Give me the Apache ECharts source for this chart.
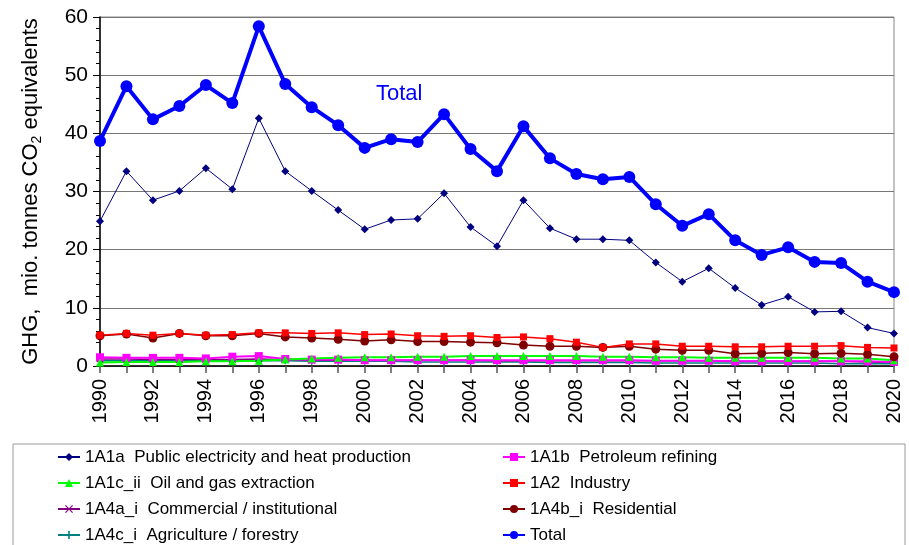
<!DOCTYPE html>
<html>
<head>
<meta charset="utf-8">
<script src="https://cdn.jsdelivr.net/npm/echarts@6/dist/echarts.min.js"></script>
<style>
  html, body { margin: 0; padding: 0; background: #fff; }
  #chart { width: 909px; height: 545px; }
</style>
</head>
<body>
<div id="chart"></div>
<script>
var years = [];
for (var y = 1990; y <= 2020; y++) years.push(String(y));

var publicElec = [24.9,33.5,28.5,30.1,34.0,30.4,42.6,33.5,30.1,26.8,23.5,25.1,25.3,29.7,23.9,20.6,28.5,23.7,21.8,21.8,21.6,17.8,14.5,16.8,13.4,10.5,11.9,9.3,9.4,6.6,5.6];
var refining = [1.5,1.4,1.4,1.4,1.3,1.6,1.7,1.2,1.1,1.1,1.0,1.0,1.0,1.0,1.0,1.0,1.0,1.0,1.0,1.0,1.0,0.9,0.9,0.9,0.8,0.8,0.8,0.8,0.8,0.8,0.7];
var oilGas = [0.6,0.7,0.7,0.7,0.8,0.8,0.9,1.1,1.3,1.4,1.5,1.5,1.6,1.6,1.7,1.7,1.7,1.7,1.7,1.6,1.6,1.5,1.5,1.4,1.4,1.4,1.4,1.4,1.3,1.3,1.0];
var industry = [5.3,5.6,5.3,5.6,5.3,5.4,5.7,5.7,5.6,5.7,5.4,5.5,5.2,5.1,5.2,4.9,5.0,4.7,4.1,3.2,3.8,3.8,3.4,3.4,3.3,3.3,3.4,3.4,3.5,3.2,3.1];
var commercial = [1.2,1.2,1.1,1.1,1.1,1.1,1.2,1.1,1.0,1.0,1.0,1.0,1.0,1.0,1.0,0.9,0.9,0.9,0.9,0.9,0.9,0.9,0.9,0.9,0.8,0.8,0.8,0.8,0.8,0.7,0.6];
var residential = [5.2,5.5,4.8,5.6,5.2,5.2,5.6,5.0,4.8,4.6,4.3,4.5,4.2,4.2,4.1,4.0,3.6,3.4,3.4,3.2,3.4,2.9,2.7,2.7,2.1,2.2,2.3,2.1,2.2,2.0,1.6];
var agriculture = [0.9,0.9,0.9,0.9,0.9,0.9,0.9,0.9,0.8,0.8,0.8,0.8,0.7,0.7,0.7,0.7,0.7,0.6,0.6,0.6,0.6,0.5,0.5,0.5,0.5,0.5,0.5,0.5,0.4,0.4,0.4];
var total = [38.7,48.1,42.4,44.7,48.3,45.2,58.4,48.5,44.5,41.4,37.5,39.0,38.5,43.3,37.3,33.5,41.2,35.7,33.0,32.1,32.5,27.8,24.1,26.1,21.6,19.1,20.4,17.9,17.7,14.5,12.7];

var names = {
    a: '1A1a  Public electricity and heat production',
    b: '1A1b  Petroleum refining',
    c: '1A1c_ii  Oil and gas extraction',
    d: '1A2  Industry',
    e: '1A4a_i  Commercial / institutional',
    f: '1A4b_i  Residential',
    g: '1A4c_i  Agriculture / forestry',
    t: 'Total'
};

var crossSym = 'path://M4,0H6V4H10V6H6V10H4V6H0V4H4Z';
var xSym = 'path://M1,0L5,4L9,0L10,1L6,5L10,9L9,10L5,6L1,10L0,9L4,5L0,1Z';

function line(name, data, color, width, symbol, size) {
    return {
        name: name,
        type: 'line',
        data: data,
        symbol: symbol,
        symbolSize: size,
        showSymbol: true,
        lineStyle: { color: color, width: width },
        itemStyle: { color: color },
        emphasis: { disabled: true },
        animation: false
    };
}

var myChart = echarts.init(document.getElementById('chart'));
var font = 'Liberation Sans, Arial, sans-serif';

var legendText = { fontSize: 17, color: '#000', fontFamily: font, lineHeight: 18 };

var option = {
    textStyle: { fontFamily: font },
    grid: {
        left: 100, right: 15, top: 17, bottom: 179,
        show: true, borderColor: '#888', borderWidth: 1
    },
    legend: [{
        orient: 'vertical',
        left: 57, top: 448, height: 140, padding: 0,
        itemWidth: 22, itemHeight: 10, itemGap: 8,
        textStyle: legendText,
        data: [names.a, names.c, names.e, names.g]
    }, {
        orient: 'vertical',
        left: 502, top: 448, height: 140, padding: 0,
        itemWidth: 22, itemHeight: 10, itemGap: 8,
        textStyle: legendText,
        data: [names.b, names.d, names.f, names.t]
    }],
    graphic: [{
        type: 'rect',
        shape: { x: 13, y: 444, width: 892, height: 120 },
        style: { fill: 'none', stroke: '#999', lineWidth: 1 },
        z: -1
    }, {
        type: 'text',
        left: 376, top: 83,
        style: { text: 'Total', fill: '#0000ff', font: '22px ' + font }
    }],
    xAxis: {
        type: 'category',
        data: years,
        boundaryGap: false,
        axisLine: { lineStyle: { color: '#000', width: 1.5 } },
        axisTick: { interval: 0, length: 7, lineStyle: { color: '#555', width: 1.5 } },
        axisLabel: { interval: 1, rotate: 90, fontSize: 20, color: '#000', margin: 13 },
        splitLine: { show: false }
    },
    yAxis: {
        type: 'value',
        min: 0, max: 60, interval: 10,
        name: 'GHG,  mio. tonnes CO{sub|2} equivalents',
        nameLocation: 'middle',
        nameGap: 56,
        nameTextStyle: {
            fontSize: 22, color: '#000',
            rich: { sub: { fontSize: 14, verticalAlign: 'bottom', padding: [12, 0, 0, 0] } }
        },
        axisLine: { show: true, lineStyle: { color: '#000', width: 1.5 } },
        axisTick: { show: true, length: 7, lineStyle: { color: '#000' } },
        minorTick: { show: true, splitNumber: 5, length: 4, lineStyle: { color: '#000' } },
        axisLabel: { fontSize: 21, color: '#000', margin: 12 },
        splitLine: { lineStyle: { color: '#777', width: 1 } }
    },
    series: [
        line(names.g, agriculture, '#008080', 1.5, crossSym, 7),
        line(names.e, commercial, '#800080', 1.5, xSym, 7),
        line(names.b, refining, '#ff00ff', 2, 'rect', 8),
        line(names.c, oilGas, '#00ff00', 2, 'triangle', 8),
        line(names.f, residential, '#800000', 1.5, 'circle', 9),
        line(names.d, industry, '#ff0000', 1.5, 'rect', 7),
        line(names.a, publicElec, '#000080', 1, 'diamond', 8),
        line(names.t, total, '#0000ff', 4, 'circle', 12)
    ]
};

myChart.setOption(option);
</script>
</body>
</html>
